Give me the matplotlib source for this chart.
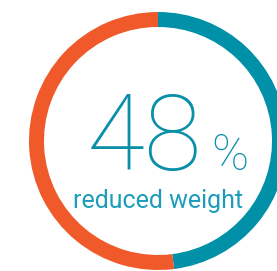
import matplotlib.pyplot as plt

shares = [48, 52]
labels = ['reduced weight', 'other']
colors = ['#0090a8', '#f05a2a']
big_number = '48'
caption = 'reduced weight'

fig = plt.figure(figsize=(2.77, 2.71), dpi=100)
ax = fig.add_axes([0, 0, 1, 1])

ax.pie(shares, colors=colors, startangle=90, counterclock=False,
       center=(158, 130), radius=129,
       wedgeprops=dict(width=15, linewidth=0))

ax.text(87, 101, big_number, fontsize=76, family='Roboto', fontweight=100,
        color='#0a8fa8', ha='left', va='baseline')
ax.text(211, 101, '%', fontsize=36, family='Roboto', fontweight=100,
        color='#0a8fa8', ha='left', va='baseline')
ax.text(158, 63, caption, fontsize=18, family='Roboto', fontweight='normal',
        color='#1d9dba', ha='center', va='baseline')

ax.set_xlim(0, 277)
ax.set_ylim(0, 271)
ax.set_aspect('auto')
ax.axis('off')

fig.savefig('out.png', dpi=100)
